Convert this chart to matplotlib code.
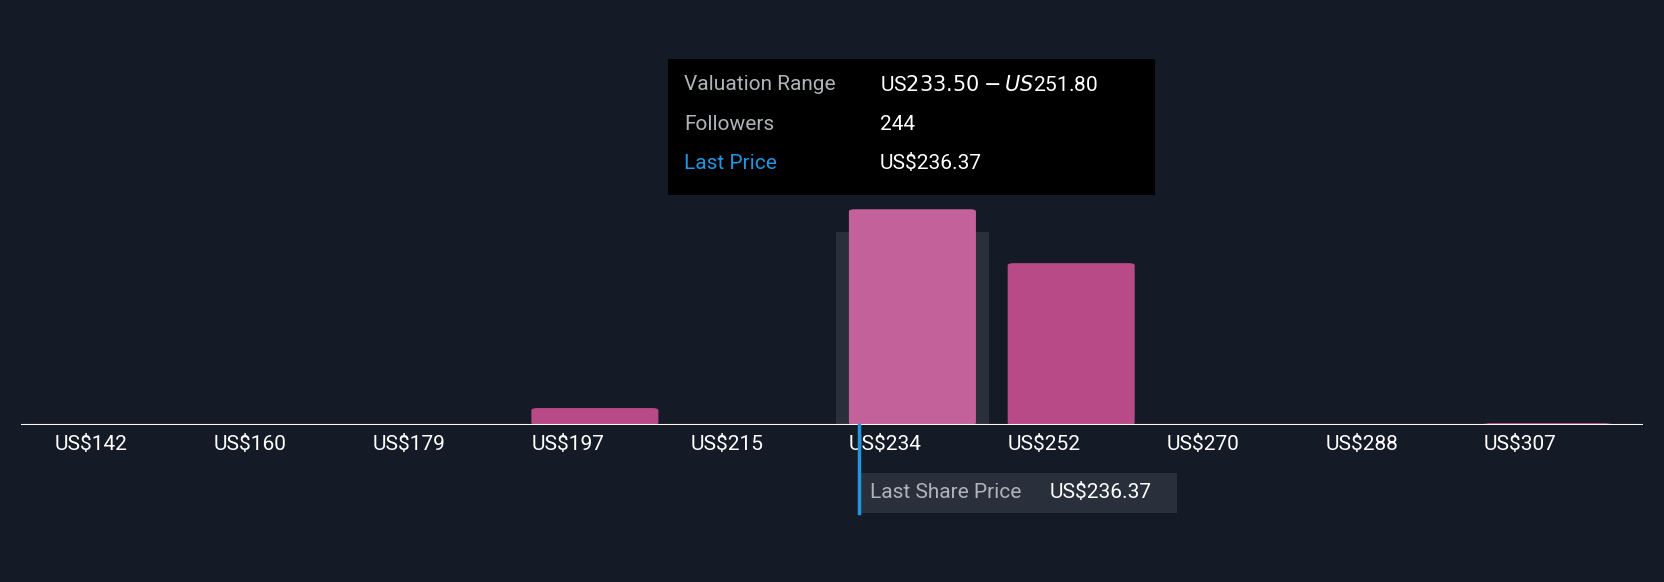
import matplotlib
matplotlib.use("Agg")
import matplotlib.pyplot as plt
from matplotlib.patches import FancyBboxPatch, Rectangle

bin_labels = ["US$142","US$160","US$179","US$197","US$215","US$234","US$252","US$270","US$288","US$307"]
followers = [0, 0, 0, 19, 0, 244, 183, 0, 0, 2]
highlight_idx = 5
last_price = 236.37
bin_start = 233.5
bin_width = 18.3

BG = "#151b26"
W, H = 1664, 582
fig = plt.figure(figsize=(W/100, H/100), dpi=100, facecolor=BG)
ax = fig.add_axes([20/1568, 0.27, 1528/1568, 0.4555])
ax.set_facecolor(BG)
ax.set_xlim(-0.013, 10.2)
ax.set_ylim(0, 300)
ax.axis("off")

# highlight band
ax.add_patch(Rectangle((highlight_idx + 0.12, 0), 0.96, 290 * 0 + 1.06 * 2.0 * 103, facecolor="#2a303b", edgecolor="none", zorder=0))

for i, v in enumerate(followers):
    col = "#c2619a" if i == highlight_idx else "#b94a88"
    if v > 0:
        ax.add_patch(FancyBboxPatch((i + 0.2, 0), 0.8, v, boxstyle="round,pad=0,rounding_size=0.04",
                                    mutation_aspect=60, facecolor=col, edgecolor="none", zorder=2))
    ax.text(i + 0.2, -12, bin_labels[i], color="white", fontsize=15, ha="left", va="top",
            family="Roboto")
    ax.plot([i + 1.0, i + 1.0], [-2, -2], marker=".", ms=1, color="#555")

ax.axhline(0, color="white", lw=1.5, zorder=3)

# last price marker
xp = highlight_idx + 0.2 + (last_price - bin_start) / bin_width * 0.8 - 0.06
ax.plot([xp, xp], [0, -100], color="#2394df", lw=2.5, clip_on=False, zorder=4)
ax.add_patch(Rectangle((xp, -100), 2.0, 45, facecolor="#2a303b", edgecolor="none", clip_on=False, zorder=3))
ax.text(xp + 0.07, -77, "Last Share Price", color="#b0b3b8", fontsize=15, va="center", ha="left", family="Roboto")
ax.text(xp + 1.2, -77, f"US${last_price:.2f}", color="white", fontsize=15, va="center", ha="left", family="Roboto")

# tooltip
fx = lambda px: px / 1568
fy = lambda py: 1 - py / 548
fig.patches.append(Rectangle((fx(629), fy(184)), fx(1088) - fx(629), fy(56) - fy(184),
                             transform=fig.transFigure, facecolor="black", edgecolor="none", zorder=5))
rows = [("Valuation Range", "US$233.50 - US$251.80", "#b0b3b8"),
        ("Followers", "244", "#b0b3b8"),
        ("Last Price", f"US${last_price:.2f}", "#2394df")]
for k, (a, b, c) in enumerate(rows):
    y = fy(80 + 37 * k)
    fig.text(fx(645), y, a, color=c, fontsize=15, va="center", family="Roboto", zorder=6)
    fig.text(fx(829), y, b, color="white", fontsize=15, va="center", family="Roboto", zorder=6)

fig.savefig("out.png", dpi=100, facecolor=BG)
